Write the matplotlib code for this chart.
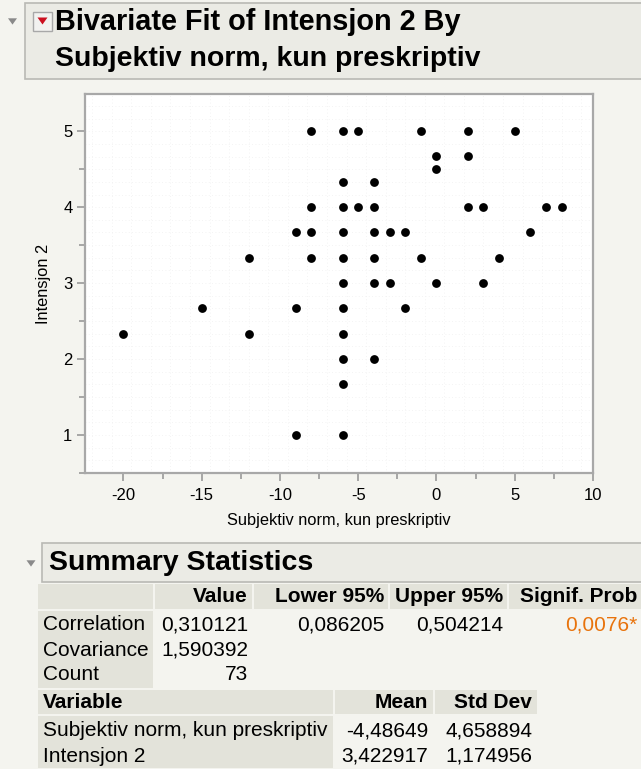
import matplotlib
matplotlib.use("Agg")
import matplotlib.pyplot as plt
from matplotlib.patches import Rectangle, Polygon
from matplotlib.ticker import MultipleLocator
import numpy as np

plt.rcParams.update({
    "font.family": ["Liberation Sans", "DejaVu Sans"],
    "font.size": 10,
    "axes.unicode_minus": False,
})

# Subjektiv norm (x) vs Intensjon 2 (y)
x_vals = [-8, -6, -5, -1, 2, 5,
          0, 2,
          0,
          -6, -4,
          -8, -6, -5, -4, 2, 3, 7, 8,
          -9, -8, -6, -4, -3, -2, 6,
          -12, -8, -6, -4, -1, 4,
          -6, -4, -3, 0, 3,
          -15, -9, -6, -2,
          -20, -12, -6,
          -6, -4,
          -6,
          -9, -6]
y_vals = [5, 5, 5, 5, 5, 5,
          4.67, 4.67,
          4.5,
          4.33, 4.33,
          4, 4, 4, 4, 4, 4, 4, 4,
          3.67, 3.67, 3.67, 3.67, 3.67, 3.67, 3.67,
          3.33, 3.33, 3.33, 3.33, 3.33, 3.33,
          3, 3, 3, 3, 3,
          2.67, 2.67, 2.67, 2.67,
          2.33, 2.33, 2.33,
          2, 2,
          1.67,
          1, 1]

x_ticks = [-20, -15, -10, -5, 0, 5, 10]
y_ticks = [1, 2, 3, 4, 5]

title_lines = ["Bivariate Fit of Intensjon 2 By", "Subjektiv norm, kun preskriptiv"]
x_label = "Subjektiv norm, kun preskriptiv"
y_label = "Intensjon 2"

stat_cols = ["Value", "Lower 95%", "Upper 95%", "Signif. Prob"]
stat_rows = ["Correlation", "Covariance", "Count"]
stat_cells = [["0,310121", "0,086205", "0,504214", "0,0076*"],
              ["1,590392", "", "", ""],
              ["73", "", "", ""]]
var_cols = ["Variable", "Mean", "Std Dev"]
var_rows = [["Subjektiv norm, kun preskriptiv", "-4,48649", "4,658894"],
            ["Intensjon 2", "3,422917", "1,174956"]]

W, H = 641, 769
bg = "#f4f4ef"
cell_bg = "#e3e3da"
box_bg = "#ebebe5"
box_edge = "#b9b9b4"
tfs = 15  # table font size

fig = plt.figure(figsize=(W / 100, H / 100), dpi=100, facecolor=bg)

# overlay in pixel coordinates for the report chrome
ov = fig.add_axes([0, 0, 1, 1])
ov.set_xlim(0, W)
ov.set_ylim(H, 0)
ov.axis("off")


def rect(x0, y0, x1, y1, fc, ec="none", lw=1.0):
    ov.add_patch(Rectangle((x0, y0), x1 - x0, y1 - y0, facecolor=fc,
                           edgecolor=ec, linewidth=lw))


def tri(cx, cy, s, color):
    ov.add_patch(Polygon([[cx - s, cy - s * 0.6], [cx + s, cy - s * 0.6],
                          [cx, cy + s * 0.8]], closed=True,
                         facecolor=color, edgecolor="none"))


# title outline box
rect(25, 3, W + 5, 79, box_bg, box_edge, 1.2)
tri(12.5, 21, 4.5, "#8a8a8a")
rect(33, 12, 52, 31, "#f2f2f0", "#a8a8a8", 1.0)
tri(42.5, 20.5, 5, "#cc1020")
ov.text(55, 22, title_lines[0], fontsize=20.8, fontweight="bold", va="center", ha="left")
ov.text(55, 59, title_lines[1], fontsize=20.5, fontweight="bold", va="center", ha="left")

# summary statistics box
rect(42, 543, W + 5, 582, box_bg, box_edge, 1.2)
tri(31, 563, 4.5, "#8a8a8a")
ov.text(49, 563, "Summary Statistics", fontsize=20.5, fontweight="bold", va="center", ha="left")

# statistics table
col_edges = [(38, 153), (155, 252), (254, 388), (390, 507), (509, W)]
rect(col_edges[0][0], 584, col_edges[0][1], 609, cell_bg)
for (a, b), name in zip(col_edges[1:], stat_cols):
    rect(a, 584, b, 609, cell_bg)
    ov.text(b - 4, 597, name, fontsize=tfs, fontweight="bold", ha="right", va="center")
rect(38, 611, 153, 688, cell_bg)
row_y = [625, 650, 675]
for yy, lab, cells in zip(row_y, stat_rows, stat_cells):
    ov.text(43, yy, lab, fontsize=tfs, ha="left", va="center")
    for (a, b), val in zip(col_edges[1:], cells):
        if val:
            color = "#e8730c" if val.endswith("*") else "black"
            ov.text(b - 4, yy, val, fontsize=tfs, ha="right", va="center", color=color)

# variable table
vcol_edges = [(38, 333), (335, 433), (435, 537)]
for (a, b), name in zip(vcol_edges, var_cols):
    rect(a, 690, b, 714, cell_bg)
for i, name in enumerate(var_cols):
    a, b = vcol_edges[i]
    if i == 0:
        ov.text(a + 5, 703, name, fontsize=tfs, fontweight="bold", ha="left", va="center")
    else:
        ov.text(b - 5, 703, name, fontsize=tfs, fontweight="bold", ha="right", va="center")
rect(38, 716, 333, 768, cell_bg)
for yy, row in zip([731, 756], var_rows):
    ov.text(43, yy, row[0], fontsize=tfs, ha="left", va="center")
    ov.text(vcol_edges[1][1] - 5, yy, row[1], fontsize=tfs, ha="right", va="center")
    ov.text(vcol_edges[2][1] - 5, yy, row[2], fontsize=tfs, ha="right", va="center")

# scatter plot frame
ax = fig.add_axes([85 / W, 1 - 473 / H, (593 - 85) / W, (473 - 94) / H])
ax.set_facecolor("white")
ax.set_xlim(-22.46, 10)
ax.set_ylim(0.5, 5.49)

for gy in np.arange(0.5, 5.5, 1 / 6):
    ax.axhline(gy, color="#f0f0f0", lw=0.6, ls=(0, (1, 3)), zorder=0)
for gx in np.arange(-22, 10, 1.25):
    ax.axvline(gx, color="#f0f0f0", lw=0.6, ls=(0, (1, 3)), zorder=0)

ax.scatter(x_vals, y_vals, s=40, color="black", zorder=3, linewidths=0)

ax.set_xticks(x_ticks)
ax.set_yticks(y_ticks)
ax.xaxis.set_minor_locator(MultipleLocator(2.5))
ax.yaxis.set_minor_locator(MultipleLocator(0.5))
ax.tick_params(which="major", direction="out", length=6, width=1.3, color="#a0a0a0",
               labelsize=12, pad=3)
ax.tick_params(axis="x", which="major", pad=5)
ax.tick_params(which="minor", direction="out", length=4, width=1.3, color="#a0a0a0")
for sp in ax.spines.values():
    sp.set_color("#a8a8a8")
    sp.set_linewidth(1.6)

ax.set_xlabel(x_label, fontsize=11.8, labelpad=7)
ax.set_ylabel(y_label, fontsize=11.8, labelpad=9)

fig.savefig("out.png", dpi=100, facecolor=bg)
